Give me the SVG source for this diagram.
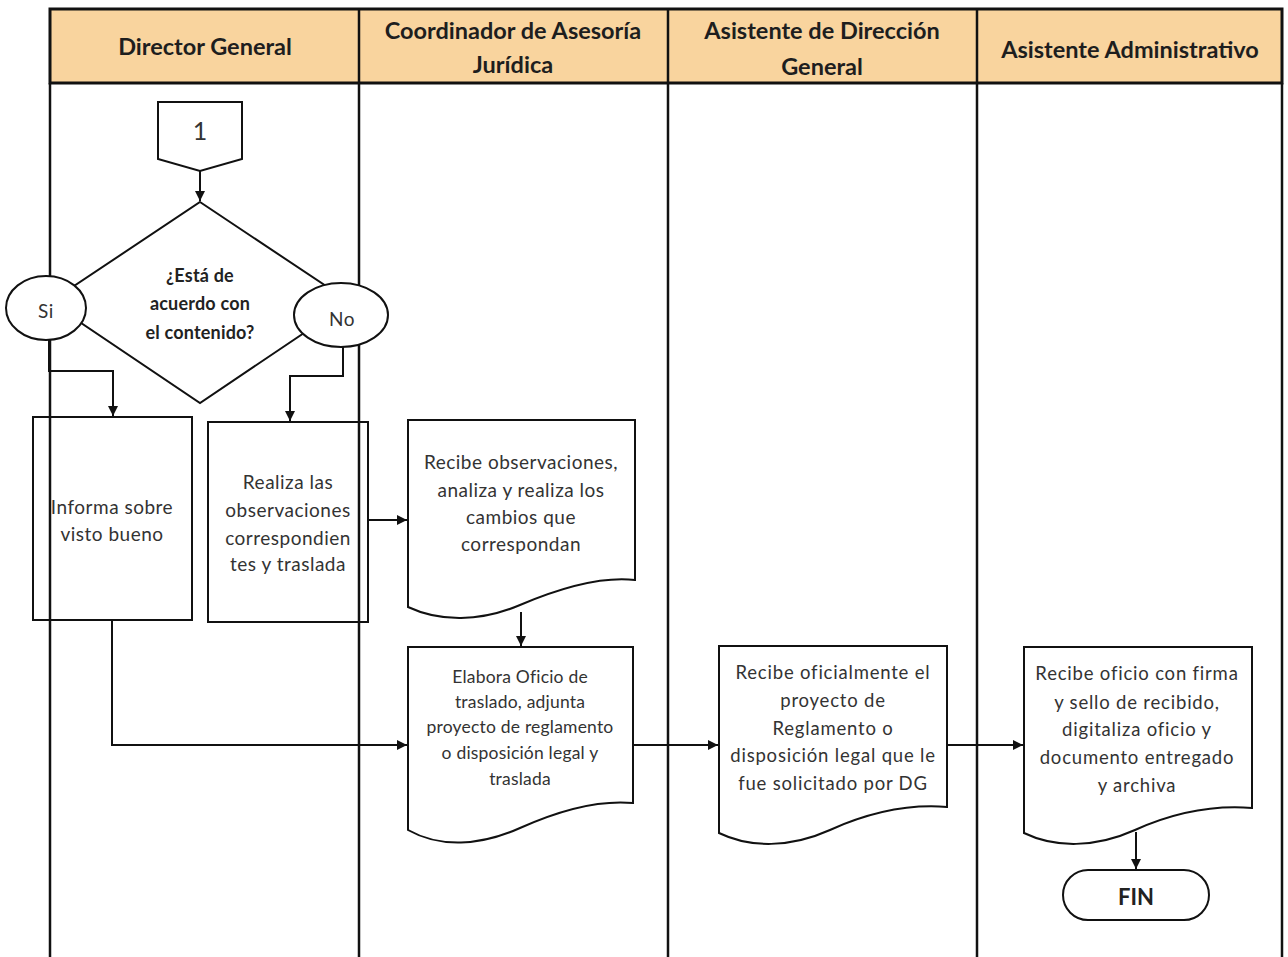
<svg xmlns="http://www.w3.org/2000/svg" width="1288" height="957" viewBox="0 0 1288 957">
  <defs>
    <marker id="arrow" viewBox="0 0 10 10" refX="10" refY="5" markerWidth="10" markerHeight="10" markerUnits="userSpaceOnUse" orient="auto">
      <path d="M0,0 L10,5 L0,10 Z" fill="#111"/>
    </marker>
    <style>
      .lane { stroke: #111; stroke-width: 2.5; fill: none; }
      .hdr { fill: #F9D49E; stroke: #111; stroke-width: 3; }
      .hdrtxt { font-family: Lato, "Liberation Sans", sans-serif; font-weight: bold; font-size: 23.5px; fill: #1e1e1e; text-anchor: middle; dominant-baseline: central; }
      .shape { fill: #fff; stroke: #111; stroke-width: 2; }
      .box { fill: none; stroke: #111; stroke-width: 2; }
      .txt { font-family: Lato, "Liberation Sans", sans-serif; font-size: 19px; letter-spacing: 0.5px; fill: #333; text-anchor: middle; dominant-baseline: central; }
      .small { font-size: 18.5px; letter-spacing: 0.8px; }
      .tight { font-size: 17.5px; letter-spacing: 0.2px; }
      .dec { font-size: 18px; letter-spacing: 0.2px; font-weight: bold; fill: #222; }
      .num { font-size: 25px; letter-spacing: 0; }
      .fin { font-size: 22px; letter-spacing: 0; font-weight: bold; fill: #222; }
      .conn { fill: none; stroke: #111; stroke-width: 2; marker-end: url(#arrow); }
    </style>
  </defs>

  <rect width="1288" height="957" fill="#fff"/>

  <!-- swimlane header -->
  <g id="header">
    <rect class="hdr" x="50" y="9" width="1232" height="74"/>
    <line class="lane" x1="359" y1="9" x2="359" y2="83" stroke-width="3"/>
    <line class="lane" x1="668" y1="9" x2="668" y2="83" stroke-width="3"/>
    <line class="lane" x1="977" y1="9" x2="977" y2="83" stroke-width="3"/>
    <text class="hdrtxt" x="205" y="46">Director General</text>
    <text class="hdrtxt" x="513" y="30">Coordinador de Asesoría</text>
    <text class="hdrtxt" x="513" y="64">Jurídica</text>
    <text class="hdrtxt" x="822" y="30">Asistente de Dirección</text>
    <text class="hdrtxt" x="822" y="66">General</text>
    <text class="hdrtxt" x="1130" y="49">Asistente Administrativo</text>
  </g>

  <!-- lane separators -->
  <g id="lanes">
    <line class="lane" x1="50" y1="83" x2="50" y2="957"/>
    <line class="lane" x1="359" y1="83" x2="359" y2="957"/>
    <line class="lane" x1="668" y1="83" x2="668" y2="957"/>
    <line class="lane" x1="977" y1="83" x2="977" y2="957"/>
    <line class="lane" x1="1282" y1="83" x2="1282" y2="957"/>
  </g>

  <!-- connectors -->
  <g id="connectors">
    <path class="conn" d="M200,171 V201"/>
    <path class="conn" d="M49,340 V371 H113 V416"/>
    <path class="conn" d="M343,347 V376 H290 V421"/>
    <path class="conn" d="M368,520 H407"/>
    <path class="conn" d="M521,612 V646"/>
    <path class="conn" d="M112,620 V745 H407"/>
    <path class="conn" d="M633,745 H718"/>
    <path class="conn" d="M947,745 H1023"/>
    <path class="conn" d="M1136,832 V869"/>
  </g>

  <!-- off-page connector 1 -->
  <g id="connector-1">
    <path class="shape" d="M158,102 H242 V159 L200,171 L158,159 Z"/>
    <text class="txt num" x="200" y="130">1</text>
  </g>

  <!-- decision -->
  <g id="decision">
    <path class="shape" d="M200,202 L350,302 L200,403 L50,302 Z"/>
    <text class="txt dec" x="200" y="275">¿Está de</text>
    <text class="txt dec" x="200" y="303">acuerdo con</text>
    <text class="txt dec" x="200" y="332">el contenido?</text>
  </g>

  <g id="label-si">
    <ellipse class="shape" cx="46" cy="308" rx="40" ry="32"/>
    <text class="txt" x="46" y="310">Si</text>
  </g>

  <g id="label-no">
    <ellipse class="shape" cx="341" cy="315" rx="47" ry="32"/>
    <text class="txt" x="342" y="318">No</text>
  </g>

  <!-- Director General tasks -->
  <g id="informa">
    <rect class="box" x="33" y="417" width="159" height="203"/>
    <text class="txt" x="112" y="506">Informa sobre</text>
    <text class="txt" x="112" y="533">visto bueno</text>
  </g>

  <g id="realiza">
    <rect class="box" x="208" y="422" width="160" height="200"/>
    <text class="txt" x="288" y="481">Realiza las</text>
    <text class="txt" x="288" y="509">observaciones</text>
    <text class="txt" x="288" y="537">correspondien</text>
    <text class="txt" x="288" y="563">tes y traslada</text>
  </g>

  <!-- Coordinador de Asesoría Jurídica documents -->
  <g id="recibe-observaciones">
    <path class="shape" d="M408,420 H635 V580 C600,576 560,588 520,605 C480,622 440,622 408,607 Z"/>
    <text class="txt" x="521" y="461">Recibe observaciones,</text>
    <text class="txt" x="521" y="489">analiza y realiza los</text>
    <text class="txt" x="521" y="516">cambios que</text>
    <text class="txt" x="521" y="543">correspondan</text>
  </g>

  <g id="elabora-oficio">
    <path class="shape" d="M408,647 H633 V803 C600,800 560,810 520,828 C480,846 440,848 408,830 Z"/>
    <text class="txt tight" x="520" y="676">Elabora Oficio de</text>
    <text class="txt tight" x="520" y="701">traslado, adjunta</text>
    <text class="txt tight" x="520" y="726">proyecto de reglamento</text>
    <text class="txt tight" x="520" y="752">o disposición legal y</text>
    <text class="txt tight" x="520" y="778">traslada</text>
  </g>

  <!-- Asistente de Dirección General document -->
  <g id="recibe-oficialmente">
    <path class="shape" d="M719,646 H947 V807 C910,804 870,812 830,830 C790,848 750,848 719,833 Z"/>
    <text class="txt small" x="833" y="672">Recibe oficialmente el</text>
    <text class="txt small" x="833" y="700">proyecto de</text>
    <text class="txt small" x="833" y="728">Reglamento o</text>
    <text class="txt small" x="833" y="755">disposición legal que le</text>
    <text class="txt small" x="833" y="783">fue solicitado por DG</text>
  </g>

  <!-- Asistente Administrativo document and end -->
  <g id="recibe-oficio">
    <path class="shape" d="M1024,647 H1252 V808 C1215,805 1175,812 1135,830 C1095,848 1055,848 1024,833 Z"/>
    <text class="txt small" x="1137" y="673">Recibe oficio con firma</text>
    <text class="txt small" x="1137" y="702">y sello de recibido,</text>
    <text class="txt small" x="1137" y="729">digitaliza oficio y</text>
    <text class="txt small" x="1137" y="757">documento entregado</text>
    <text class="txt small" x="1137" y="785">y archiva</text>
  </g>

  <g id="fin">
    <rect class="shape" x="1063" y="870" width="146" height="50" rx="25" ry="25"/>
    <text class="txt fin" x="1136" y="896">FIN</text>
  </g>
</svg>
